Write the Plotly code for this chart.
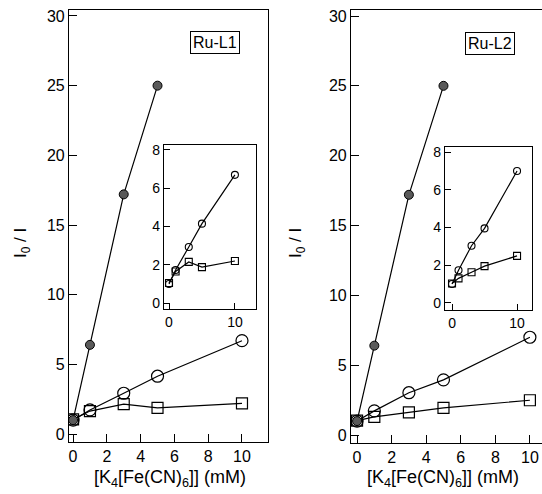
import plotly.graph_objects as go

W, H = 542, 494

conc_filled = [0, 1, 3, 5]
conc = [0, 1, 3, 5, 10]

# Ru-L1
l1_filled = [1.0, 6.4, 17.2, 25.0]
l1_circle = [1.0, 1.73, 2.93, 4.15, 6.7]
l1_square = [1.05, 1.65, 2.15, 1.88, 2.2]

# Ru-L2
l2_filled = [1.0, 6.4, 17.2, 25.0]
l2_circle = [1.0, 1.73, 3.03, 3.95, 7.0]
l2_square = [1.03, 1.3, 1.62, 1.95, 2.49]

main_yticks = [0, 5, 10, 15, 20, 25, 30]
main_xticks = [0, 2, 4, 6, 8, 10]
inset_yticks = [0, 2, 4, 6, 8]
inset_xticks = [0, 10]

FONT = "Liberation Sans, Arial, sans-serif"
LINE = dict(color="black", width=1.2)

fig = go.Figure()


def xdom(a, b):
    return [a / W, b / W]


def ydom(top, bottom):
    return [1 - bottom / H, 1 - top / H]


panels = [
    dict(main="", inset="2", mx=(69, 268), my=(10, 442), mxr=[-0.24, 11.54], myr=[-0.57, 30.43],
         ix=(164, 256), iy=(145, 309), ixr=[-0.76, 13.2], iyr=[-0.31, 8.26],
         filled=l1_filled, circle=l1_circle, square=l1_square, label="Ru-L1", lx=215, ly=42, xt=170, yt=22),
    dict(main="3", inset="4", mx=(351, 542), my=(10, 443), mxr=[-0.35, 10.7], myr=[-0.57, 30.43],
         ix=(445, 532), iy=(147, 310), ixr=[-1.08, 12.3], iyr=[-0.38, 8.27],
         filled=l2_filled, circle=l2_circle, square=l2_square, label="Ru-L2", lx=490, ly=44, xt=443, yt=297),
]

layout_axes = {}
for p in panels:
    m, i = p["main"], p["inset"]
    mx, my = "x" + m, "y" + m
    ix, iy = "x" + i, "y" + i
    fig.add_trace(go.Scatter(x=conc, y=p["square"], mode="lines+markers", xaxis=mx, yaxis=my,
                             line=LINE, marker=dict(symbol="square-open", size=11, color="black",
                                                    line=dict(width=1.2))))
    fig.add_trace(go.Scatter(x=conc, y=p["circle"], mode="lines+markers", xaxis=mx, yaxis=my,
                             line=LINE, marker=dict(symbol="circle-open", size=12, color="black",
                                                    line=dict(width=1.2))))
    fig.add_trace(go.Scatter(x=conc_filled, y=p["filled"], mode="lines+markers", xaxis=mx, yaxis=my,
                             line=LINE, marker=dict(symbol="circle", size=9, color="#5a5a5a",
                                                    line=dict(color="black", width=1))))
    fig.add_trace(go.Scatter(x=conc, y=p["square"], mode="lines+markers", xaxis=ix, yaxis=iy,
                             line=LINE, marker=dict(symbol="square-open", size=7, color="black",
                                                    line=dict(width=1.1))))
    fig.add_trace(go.Scatter(x=conc, y=p["circle"], mode="lines+markers", xaxis=ix, yaxis=iy,
                             line=LINE, marker=dict(symbol="circle-open", size=7, color="black",
                                                    line=dict(width=1.1))))

    common = dict(showgrid=False, zeroline=False, showline=True, linecolor="black", linewidth=1.2,
                  mirror=True, ticks="inside", tickcolor="black", tickwidth=1.2)
    layout_axes["xaxis" + m] = dict(common, domain=xdom(*p["mx"]), range=p["mxr"], tickvals=main_xticks,
                                    ticklen=8, anchor=my,
                                    tickfont=dict(family=FONT, size=16, color="black"))
    layout_axes["yaxis" + m] = dict(common, domain=ydom(*p["my"]), range=p["myr"], tickvals=main_yticks,
                                    ticklen=8, anchor=mx,
                                    tickfont=dict(family=FONT, size=16, color="black"))
    layout_axes["xaxis" + i] = dict(common, domain=xdom(*p["ix"]), range=p["ixr"], tickvals=inset_xticks,
                                    ticklen=6, anchor=iy,
                                    tickfont=dict(family=FONT, size=14, color="black"))
    layout_axes["yaxis" + i] = dict(common, domain=ydom(*p["iy"]), range=p["iyr"], tickvals=inset_yticks,
                                    ticklen=6, anchor=ix,
                                    tickfont=dict(family=FONT, size=14, color="black"))

annotations = []
for p in panels:
    annotations.append(dict(x=p["lx"] / W, y=1 - p["ly"] / H, xref="paper", yref="paper", text=p["label"],
                            xanchor="center", yanchor="middle", showarrow=False,
                            font=dict(family=FONT, size=16, color="black"),
                            bordercolor="black", borderwidth=1, borderpad=2, bgcolor="white"))
    annotations.append(dict(x=p["xt"] / W, y=1 - 478 / H, xref="paper", yref="paper",
                            text="[K<sub>4</sub>[Fe(CN)<sub>6</sub>]] (mM)", showarrow=False,
                            xanchor="center", yanchor="middle",
                            font=dict(family=FONT, size=18, color="black")))
    annotations.append(dict(x=p["yt"] / W, y=1 - 243 / H, xref="paper", yref="paper",
                            text="I<sub>0</sub> / I", textangle=-90, showarrow=False,
                            xanchor="center", yanchor="middle",
                            font=dict(family=FONT, size=17, color="black")))

fig.update_layout(width=W, height=H, margin=dict(l=0, r=0, t=0, b=0, autoexpand=False), showlegend=False,
                  plot_bgcolor="white", paper_bgcolor="white", annotations=annotations, **layout_axes)

fig.write_html("out.html", config={"displayModeBar": False},
               post_script="document.body.style.margin='0';document.body.style.padding='0';")
